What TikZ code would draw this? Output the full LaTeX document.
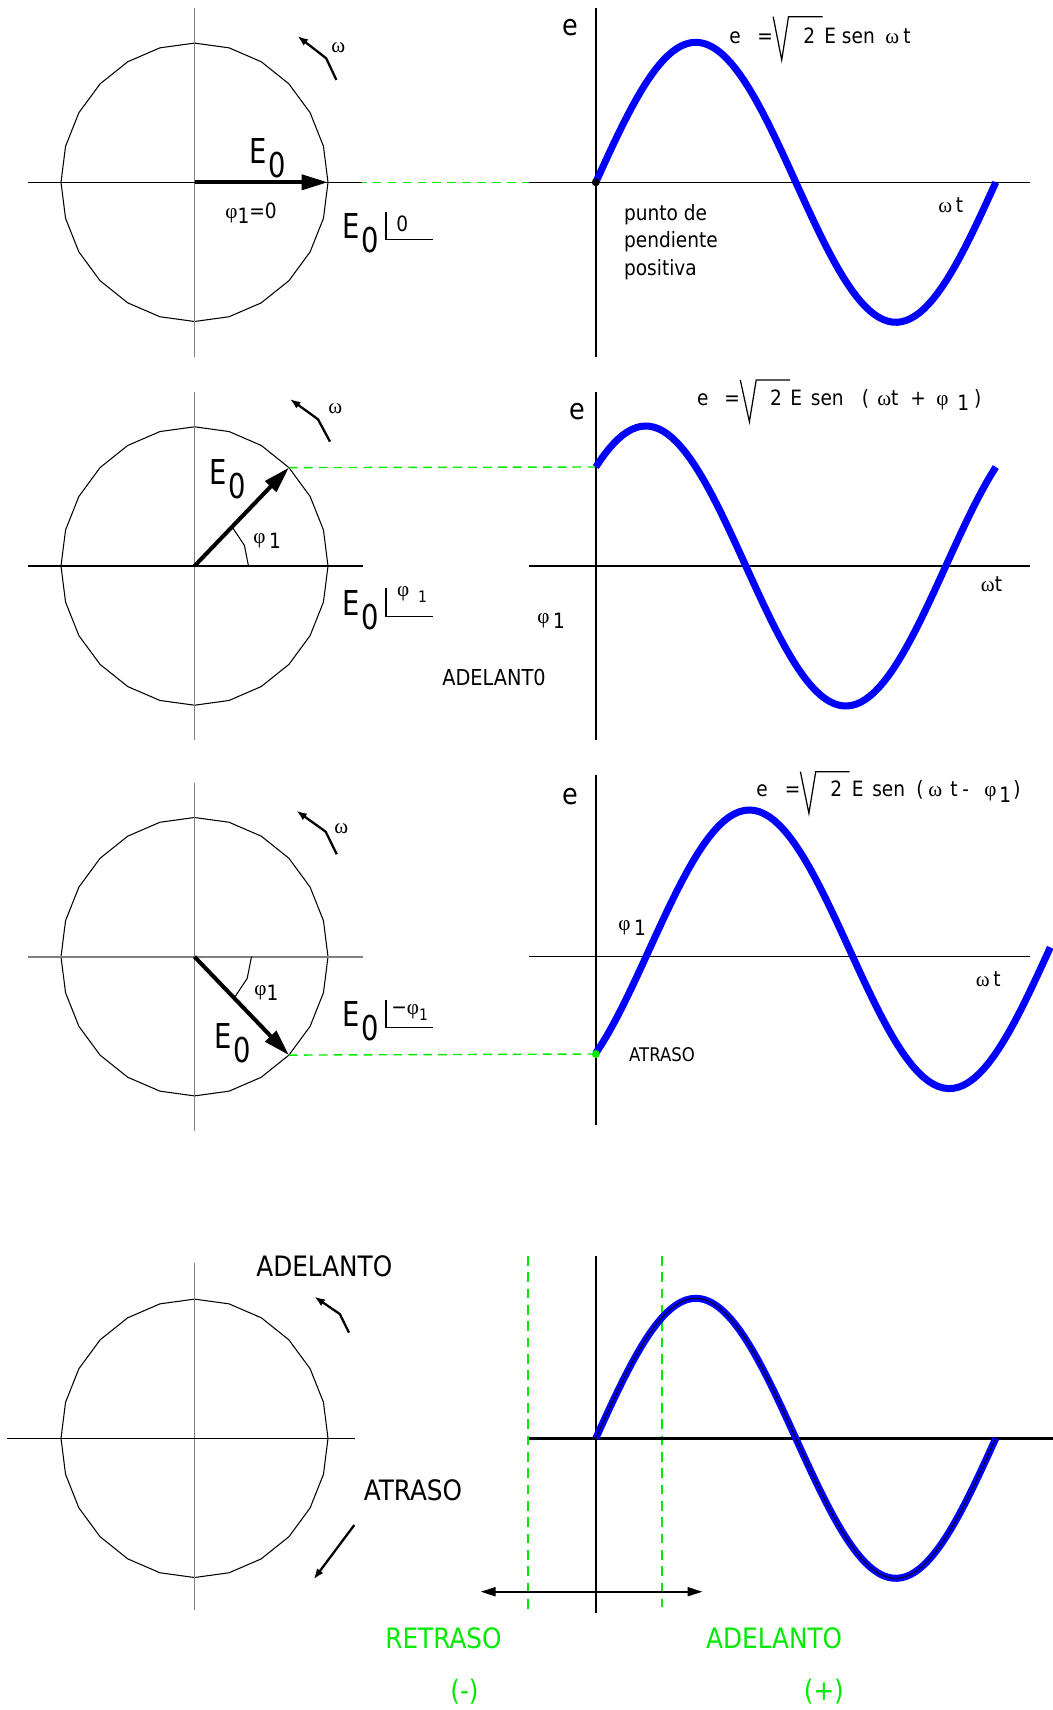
\documentclass[tikz,border=0pt]{standalone}
\usepackage{fontspec}
\setmainfont{DejaVu Sans}[FakeStretch=0.88]
\newfontfamily\grk{Liberation Serif}
\newfontfamily\tall{DejaVu Sans}[FakeStretch=0.8]
\usetikzlibrary{arrows.meta}
\definecolor{projgreen}{RGB}{0,235,0}
\definecolor{wblue}{RGB}{0,0,255}
\newcommand\Enot{E\kern1.2pt\lower8pt\hbox{0}}
\newcommand\low[1]{\lower3pt\hbox{#1}}
\newcommand\gr[1]{{\grk #1}}
\newcommand\subone{\lower3.5pt\hbox{\fontsize{9}{10}\selectfont 1}}
\tikzset{
  circ/.style={line width=0.6pt},
  axg/.style={line width=0.9pt,gray},
  axk/.style={line width=0.8pt},
  axw/.style={line width=1.4pt},
  phasor/.style={line width=2.3pt,-{Triangle[length=15pt,width=8.5pt]}},
  rot/.style={line width=1.3pt,-{Latex[length=6pt,width=4.5pt]}},
  wave/.style={wblue,line width=4pt},
  proj/.style={projgreen,line width=0.8pt,dash pattern=on 5pt off 3.5pt},
  vproj/.style={projgreen,line width=1.3pt,dash pattern=on 5.5pt off 3.8pt},
  rad/.style={line width=0.7pt},
  zdot/.style={circle,fill,inner sep=1.6pt},
  lbl/.style={inner sep=0pt,anchor=base west},
  txt/.style={lbl,font=\fontsize{12}{14}\selectfont},
  big/.style={lbl,font=\fontsize{19.5}{22}\tall},
  elab/.style={lbl,font=\fontsize{16.5}{20}\selectfont},
  cap16/.style={lbl,font=\fontsize{16}{19}\selectfont},
  wlab/.style={lbl,font=\fontsize{12}{14}\grk}
}
\begin{document}
\begin{tikzpicture}[x=0.02cm,y=-0.02cm]
\useasboundingbox (0,0) rectangle (1053,1710);

% phasor circles
\foreach \c in {182.3,566,956.7,1438.3}{
  \draw[circ] plot[domain=0:360,samples=25] ({194.5+133.5*cos(\x)},{\c+139.2*sin(\x)});
}

% ---- panel 1: phi = 0
\coordinate (o1) at (194.5,182.3);
\coordinate (t1) at (327.9,182.3);
\coordinate (s1) at (528.5,182.3);
\draw[proj] (t1) -- (s1);
\draw[axg] (194.5,8.3) -- (194.5,356.7);
\draw[axk] (28,182.3) -- (361.7,182.3);
\draw[phasor] (o1) -- (t1);
\node[big] (e0a) at (249,163.5) {\Enot};
\node[txt] (phi0) at (225,218) {\gr{φ}\low{1}=0};
\node[big] (pol1) at (342,238.3) {\Enot};
\draw[rad] (386,211.7) -- (386,239.3) -- (433.3,239.3);
\node[txt] (ang1) at (396,231.7) {0};
\coordinate (r1a) at (336.4,80); \coordinate (r1b) at (326.2,58.3); \coordinate (r1c) at (297.5,36);
\draw[rot] (r1a) -- (r1b) -- (r1c);
\node[wlab] (om1) at (331,53) {ω};

\draw[axk] (595.8,8.3) -- (595.8,356.7);
\draw[axk] (s1) -- (1030,182.3);
\draw[wave] plot[domain=0:360,samples=90] ({595.8+\x/0.9},{182.3-140*sin(\x)});
\node[zdot] (z1) at (595.8,182.3) {};
\node[elab] (e1) at (562.5,36) {e};
\node[txt] (f1e) at (729,43.3) {e};
\node[txt] (f1q) at (757,43.3) {=};
\draw[rad] (773.2,16.7) -- (781.7,60) -- (788.5,16.7) -- (822.5,16.7);
\node[txt] (f1r) at (803,43.3) {2};
\node[txt] (f1s) at (824,43.3) {E sen};
\node[wlab] (f1w) at (885,43.3) {ω};
\node[txt] (f1t) at (903,43.3) {t};
\node[txt] (wt1) at (938,212) {\gr{ω}\,t};
\node[txt] (pd1) at (623.7,220) {punto de};
\node[txt] (pd2) at (623.7,247.5) {pendiente};
\node[txt] (pd3) at (623.7,275) {positiva};

% ---- panel 2: lead
\coordinate (o2) at (194.5,566);
\coordinate (t2) at (288.9,467.6);
\coordinate (s2) at (595.8,467);
\draw[proj] (t2) -- (s2);
\draw[axg] (194.5,391.7) -- (194.5,740);
\draw[axk] (27.9,566) -- (362.5,566);
\draw[circ] plot[domain=0:45,samples=3] ({194.5+54*cos(\x)},{566-54*sin(\x)});
\draw[phasor] (o2) -- (t2);
\node[big] (e0b) at (209,484) {\Enot};
\node[txt] (phi2) at (253,543) {\gr{φ}\,\low{1}};
\node[big] (pol2) at (342,615) {\Enot};
\draw[rad] (386,588) -- (386,616.3) -- (433.3,616.3);
\node[txt] (ang2) at (396.7,596) {\gr{φ}\hspace{5pt}\subone};
\coordinate (r2a) at (330,441.7); \coordinate (r2b) at (318,419.3); \coordinate (r2c) at (290,399);
\draw[rot] (r2a) -- (r2b) -- (r2c);
\node[wlab] (om2) at (328,413) {ω};
\node[lbl,font=\fontsize{12.5}{15}\selectfont] (adl2) at (442,685) {ADELANT0};

\draw[axk] (595.8,391.7) -- (595.8,740);
\draw[axw] (528.5,566) -- (1030,566);
\draw[wave] plot[domain=45:405,samples=90] ({595.8+(\x-45)/0.9},{566-140*sin(\x)});
\node[elab] (e2) at (569,419.3) {e};
\node[txt] (f2e) at (696.7,405) {e};
\node[txt] (f2q) at (724,405) {=};
\draw[rad] (740.3,380) -- (749.4,421.7) -- (756.2,380) -- (790.2,380);
\node[txt] (f2r) at (769.8,405) {2};
\node[txt] (f2s) at (790,405) {E\hspace{5pt}sen};
\node[txt] (f2a) at (861.6,405) {(};
\node[txt] (f2b) at (877,405) {\gr{ω}t};
\node[txt] (f2c) at (910,405) {+};
\node[wlab] (f2d) at (936,405) {φ};
\node[txt] (f2f) at (957,410) {1};
\node[txt] (f2g) at (973.8,405) {)};
\node[txt] (wt2) at (980.6,591.7) {\gr{ω}t};
\node[txt] (phi2b) at (537,623) {\gr{φ}\,\low{1}};

% ---- panel 3: lag
\coordinate (o3) at (194.5,956.7);
\coordinate (t3) at (288.9,1055.1);
\coordinate (s3) at (595.8,1054);
\draw[proj] (t3) -- (s3);
\draw[axg] (194.5,782.7) -- (194.5,1130.7);
\draw[axg] (27.9,956.7) -- (362.5,956.7);
\draw[circ] plot[domain=0:45,samples=3] ({194.5+57*cos(\x)},{956.7+57*sin(\x)});
\draw[phasor] (o3) -- (t3);
\node[big] (e0c) at (214,1048.5) {\Enot};
\node[txt] (phi3) at (254,995) {\gr{φ}\low{1}};
\node[big] (pol3) at (342,1026.7) {\Enot};
\draw[rad] (386,1000) -- (386,1027.3) -- (433.3,1027.3);
\node[txt] (ang3) at (391,1014) {−\gr{φ}\subone};
\coordinate (r3a) at (336.8,854.3); \coordinate (r3b) at (325.7,831.7); \coordinate (r3c) at (296.4,810.7);
\draw[rot] (r3a) -- (r3b) -- (r3c);
\node[wlab] (om3) at (334,833) {ω};

\draw[axk] (595.8,775) -- (595.8,1125);
\draw[axk] (528.5,956.7) -- (1030,956.7);
\draw[wave] plot[domain=-48.2:360.8,samples=90] ({649.4+\x/0.9},{949.3-139.3*sin(\x)});
\node[zdot,projgreen] (z3) at (s3) {};
\node[elab] (e3) at (562.5,804.3) {e};
\node[txt] (f3e) at (756,796.7) {e};
\node[txt] (f3q) at (784.4,796.7) {=};
\draw[rad] (800.4,771.7) -- (808.9,813.3) -- (815.7,771.7) -- (849.7,771.7);
\node[txt] (f3r) at (830,796.7) {2};
\node[txt] (f3s) at (851.4,796.7) {E\hspace{5pt}sen};
\node[txt] (f3a) at (916,796.7) {(};
\node[wlab] (f3b) at (928,796.7) {ω};
\node[txt] (f3c) at (950,796.7) {t};
\node[txt] (f3d) at (962,796.7) {-};
\node[wlab] (f3f) at (984,796.7) {φ};
\node[txt] (f3g) at (999,802) {1};
\node[txt] (f3h) at (1013,796.7) {)};
\node[txt] (wt3) at (975.5,986.7) {\gr{ω}\,t};
\node[txt] (phi3b) at (618,930) {\gr{φ}\,\low{1}};
\node[lbl,font=\fontsize{10.7}{13}\selectfont] (atr3) at (628.8,1061.7) {ATRASO};

% ---- panel 4: sense of lead and lag
\draw[axg] (194.5,1263.3) -- (194.5,1610);
\draw[axk] (7.4,1438.3) -- (355,1438.3);
\node[cap16] (adl4) at (256,1276.7) {ADELANTO};
\coordinate (r4a) at (349,1332.7); \coordinate (r4b) at (339.8,1314); \coordinate (r4c) at (314.4,1296.7);
\draw[rot] (r4a) -- (r4b) -- (r4c);
\node[cap16] (atr4) at (363.4,1500.7) {ATRASO};
\coordinate (r4d) at (354.3,1525); \coordinate (r4e) at (313.7,1579.3);
\draw[rot] (r4d) -- (r4e);

\draw[vproj] (528.2,1256) -- (528.2,1612.7);
\draw[vproj] (662.2,1256) -- (662.2,1606.7);
\draw[axk] (595.8,1256) -- (595.8,1612.7);
\draw[axw] (529,1438.3) -- (1053,1438.3);
\draw[wave] plot[domain=0:360,samples=90] ({595.8+\x/0.9},{1438.3-140*sin(\x)});
\draw[line width=0.5pt] plot[domain=0:360,samples=90] ({595.8+\x/0.9},{1438.3-140*sin(\x)});
\coordinate (dl) at (480.6,1591.7); \coordinate (dr) at (702.6,1591.7);
\draw[line width=1.3pt,{Triangle[length=8.5pt,width=5pt]}-{Triangle[length=8.5pt,width=5pt]}] (dl) -- (dr);
\node[cap16,projgreen] (ret) at (385,1648.3) {RETRASO};
\node[cap16,projgreen] (adl5) at (705.8,1648.3) {ADELANTO};
\node[cap16,projgreen] (neg) at (450,1700) {(-)};
\node[cap16,projgreen] (pos) at (803.5,1700) {(+)};
\end{tikzpicture}
\end{document}
